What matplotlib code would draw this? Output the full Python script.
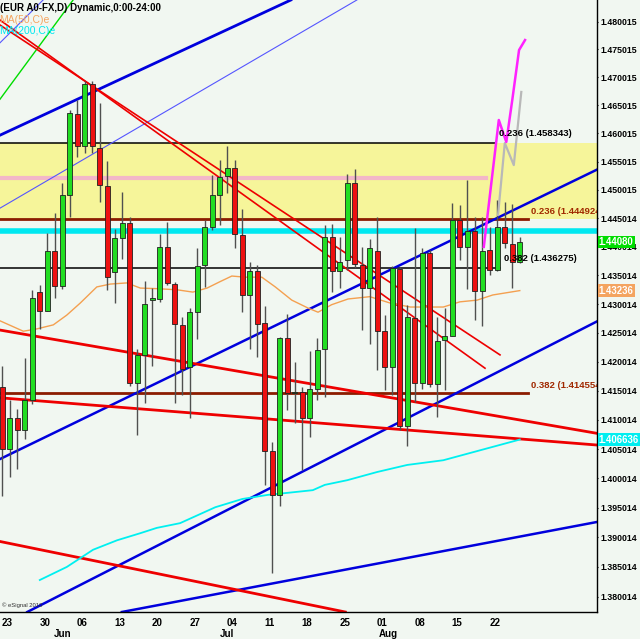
import numpy as np
import matplotlib
matplotlib.use("Agg")
import matplotlib.pyplot as plt
from matplotlib.ticker import NullLocator, FixedLocator, NullFormatter
from matplotlib.transforms import blended_transform_factory

# EUR A0-FX daily bars, bar 0 = 20 May 2011 ... bar 69 = 25 Aug 2011
opens = [1.4156, 1.4050, 1.4103, 1.4083, 1.4134, 1.4321, 1.4288, 1.4393, 1.4332, 1.4492,
         1.4634, 1.4578, 1.4688, 1.4575, 1.4507, 1.4356, 1.4416, 1.4442, 1.4163, 1.4212,
         1.4308, 1.4309, 1.4399, 1.4335, 1.4264, 1.4191, 1.4287, 1.4368, 1.4435, 1.4492,
         1.4525, 1.4538, 1.4421, 1.4316, 1.4358, 1.4267, 1.4046, 1.3972, 1.4241, 1.4146,
         1.4148, 1.4103, 1.4154, 1.4222, 1.4417, 1.4358, 1.4377, 1.4513, 1.4368, 1.4329,
         1.4393, 1.4253, 1.4191, 1.4361, 1.4090, 1.4276, 1.4164, 1.4390, 1.4161, 1.4238,
         1.4245, 1.4447, 1.4399, 1.4427, 1.4323, 1.4395, 1.4360, 1.4434, 1.4405, 1.4374]
highs = [1.4193, 1.4134, 1.4118, 1.4206, 1.4325, 1.4333, 1.4424, 1.4459, 1.4513, 1.4642,
         1.4660, 1.4694, 1.4694, 1.4654, 1.4552, 1.4431, 1.4497, 1.4453, 1.4222, 1.4341,
         1.4328, 1.4423, 1.4443, 1.4338, 1.4278, 1.4293, 1.4398, 1.4447, 1.4527, 1.4553,
         1.4578, 1.4553, 1.4467, 1.4374, 1.4368, 1.4296, 1.4062, 1.4243, 1.4283, 1.4199,
         1.4157, 1.4218, 1.4241, 1.4438, 1.4440, 1.4418, 1.4528, 1.4537, 1.4400, 1.4413,
         1.4453, 1.4281, 1.4367, 1.4364, 1.4299, 1.4433, 1.4398, 1.4395, 1.4278, 1.4293,
         1.4477, 1.4474, 1.4518, 1.4452, 1.4453, 1.4434, 1.4482, 1.4479, 1.4475, 1.4417]
lows = [1.3970, 1.4003, 1.4016, 1.4068, 1.4127, 1.4256, 1.4288, 1.4310, 1.4326, 1.4453,
        1.4559, 1.4566, 1.4565, 1.4479, 1.4324, 1.4302, 1.4378, 1.4158, 1.4075, 1.4129,
        1.4193, 1.4304, 1.4333, 1.4129, 1.4143, 1.4104, 1.4239, 1.4330, 1.4430, 1.4438,
        1.4495, 1.4398, 1.4287, 1.4222, 1.4208, 1.3989, 1.3839, 1.3953, 1.4117, 1.4094,
        1.4014, 1.4071, 1.4134, 1.4140, 1.4322, 1.4328, 1.4360, 1.4363, 1.4255, 1.4231,
        1.4186, 1.4151, 1.4143, 1.4083, 1.4055, 1.4131, 1.4153, 1.4157, 1.4105, 1.4151,
        1.4244, 1.4377, 1.4326, 1.4273, 1.4262, 1.4351, 1.4357, 1.4398, 1.4329, 1.4372]
closes = [1.4050, 1.4103, 1.4083, 1.4134, 1.4310, 1.4288, 1.4393, 1.4332, 1.4491, 1.4636,
          1.4578, 1.4688, 1.4577, 1.4508, 1.4348, 1.4415, 1.4442, 1.4163, 1.4212, 1.4300,
          1.4310, 1.4399, 1.4336, 1.4265, 1.4187, 1.4286, 1.4367, 1.4434, 1.4491, 1.4523,
          1.4539, 1.4423, 1.4316, 1.4358, 1.4266, 1.4047, 1.3972, 1.4241, 1.4147, 1.4148,
          1.4103, 1.4153, 1.4220, 1.4417, 1.4357, 1.4374, 1.4513, 1.4370, 1.4329, 1.4398,
          1.4254, 1.4191, 1.4363, 1.4090, 1.4278, 1.4164, 1.4390, 1.4161, 1.4236, 1.4245,
          1.4447, 1.4399, 1.4427, 1.4323, 1.4393, 1.4360, 1.4434, 1.4407, 1.4374, 1.4408]

# moving averages (bar, value)
ma50_bars = [-0.3, 2.8, 4.6, 6.8, 8.6, 10.4, 12.6, 14.4, 16.6, 18.4, 20.6, 23.3, 25.4, 27.3,
             29.0, 30.6, 32.4, 34.6, 36.4, 38.6, 40.8, 42.1, 43.9, 46.1, 49.0, 51.7, 54.4,
             58.8, 61.0, 63.3, 65.4, 69.0]
ma50_vals = [1.4271, 1.4253, 1.4257, 1.4264, 1.4281, 1.4302, 1.4330, 1.4335, 1.4337, 1.4328,
             1.4327, 1.4325, 1.4321, 1.4328, 1.4339, 1.4349, 1.4347, 1.4347, 1.4330, 1.4307,
             1.4293, 1.4286, 1.4299, 1.4309, 1.4313, 1.4302, 1.4295, 1.4295, 1.4304, 1.4307,
             1.4316, 1.43236]
ma200_bars = [5.0, 8.6, 12.1, 15.3, 18.4, 20.6, 23.7, 28.4, 32.0, 35.4, 37.7, 41.4, 43.0,
              46.0, 50.0, 54.0, 58.8, 69.0]
ma200_vals = [1.3828, 1.3850, 1.3879, 1.3895, 1.3907, 1.3916, 1.3924, 1.3951, 1.3965, 1.3972,
              1.3975, 1.3980, 1.3989, 1.3997, 1.4011, 1.4023, 1.4031, 1.406636]

# projection paths
proj_pink_bars = [64.2, 65.3, 66.2, 67.2, 68.0, 68.9, 69.7]
proj_pink_vals = [1.4400, 1.4523, 1.4624, 1.4585, 1.4660, 1.4749, 1.4767]
proj_gray_bars = [66.1, 67.0, 68.2, 69.2]
proj_gray_vals = [1.4456, 1.4583, 1.4544, 1.4674]

# trend lines: (bar, price) pairs
rays = [  # (p1, p2, colour, width) extended both ways
    ((-0.31, 1.4597), (37.03, 1.4830), "#0000dd", 2.0),
    ((-0.31, 1.4033), (79.29, 1.4536), "#0000dd", 1.8),
    ((11.69, 1.3828), (79.29, 1.4270), "#0000dd", 1.8),
    ((39.70, 1.3831), (79.29, 1.3926), "#0000dd", 1.8),
    ((-0.31, 1.4468), (23.69, 1.4654), "#5555ff", 0.8),
    ((-0.31, 1.4762), (5.43, 1.4839), "#5555ff", 0.8),
    ((-0.31, 1.4661), (9.43, 1.4839), "#00dd00", 1.0),
    ((-0.31, 1.4255), (79.29, 1.4077), "#ee0000", 2.0),
    ((-0.31, 1.4138), (79.29, 1.4057), "#ee0000", 2.0),
    ((-0.31, 1.3893), (23.69, 1.3831), "#ee0000", 2.0),
]
segments = [
    ((-0.31, 1.4794), (66.36, 1.4212), "#ee0000", 1.2),
    ((-0.31, 1.4803), (64.36, 1.4189), "#ee0000", 1.2),
]

fib_black = [(1.458343, "0.236 (1.458343)", 65.7), (1.436275, "0.382 (1.436275)", 66.4)]
fib_brown = [(1.444924, "0.236 (1.444924)", 70.1), (1.414554, "0.382 (1.414554)", 70.1)]
pink_level, pink_end = 1.4522, 64.5
cyan_level = 1.4428

ytick_vals = [1.480015, 1.475015, 1.470015, 1.465015, 1.460015, 1.455015, 1.450015,
              1.445014, 1.440014, 1.435014, 1.430014, 1.425014, 1.420014, 1.415014,
              1.410014, 1.405014, 1.400014, 1.395014, 1.390014, 1.385014, 1.380014]
xtick_bars = [1, 6, 11, 16, 21, 26, 31, 36, 41, 46, 51, 56, 61, 66]
xtick_text = ["23", "30", "06", "13", "20", "27", "04", "11", "18", "25", "01", "08", "15", "22"]
months = [(8, "Jun"), (30, "Jul"), (51.5, "Aug")]

FONT = "Liberation Sans"
BG = "#f1f7f1"

fig = plt.figure(figsize=(6.4, 6.39), dpi=100, facecolor=BG)
ax = fig.add_axes([0, 1 - 612 / 639, 597 / 640, 612 / 639], facecolor=BG)
ax.set_yscale("log")
x0, x1 = -2.3 / 7.5, (597 - 2.3) / 7.5
y0, y1 = 1.37743, 1.48391
ax.set_xlim(x0, x1)
ax.set_ylim(y0, y1)

# fib zone + horizontal levels
ax.axhspan(fib_brown[0][0], fib_black[0][0], color="#f6f59a", zorder=0.5, lw=0)
for lvl, txt, end in fib_black:
    ax.plot([x0, end], [lvl, lvl], color="black", lw=1.1, zorder=1)
    ax.text(end + 0.5, lvl * 1.0006, txt, fontsize=6.8, fontweight="bold", family=FONT,
            color="black", va="bottom", ha="left", zorder=6, clip_on=True)
for lvl, txt, end in fib_brown:
    ax.plot([x0, end], [lvl, lvl], color="#8b1c00", lw=2.0, zorder=1)
    ax.text(end + 0.4, lvl * 1.0004, txt, fontsize=6.8, fontweight="bold", family=FONT,
            color="#a02800", va="bottom", ha="left", zorder=6, clip_on=True)
ax.plot([x0, pink_end], [pink_level, pink_level], color="#f3b7c8", lw=3.0, zorder=1)
ax.axhline(cyan_level, color="#00e8f0", lw=4.0, zorder=1)

# trend lines
for p1, p2, col, w in rays:
    ax.axline(p1, p2, color=col, lw=w, zorder=2)
for p1, p2, col, w in segments:
    ax.plot([p1[0], p2[0]], [p1[1], p2[1]], color=col, lw=w, zorder=2)

# moving averages
ax.plot(ma50_bars, ma50_vals, color="#f4a050", lw=1.0, zorder=2)
ax.plot(ma200_bars, ma200_vals, color="#00f0f0", lw=1.3, zorder=2)

# candles
o = np.array(opens); h = np.array(highs); l = np.array(lows); c = np.array(closes)
bars = np.arange(len(o))
up = c >= o
ax.vlines(bars, l, h, color="#505050", lw=1.0, zorder=3)
body_lo = np.minimum(o, c)
body_h = np.maximum(np.abs(c - o), 0.00015)
ax.bar(bars, body_h, bottom=body_lo, width=0.62,
       color=np.where(up, "#22dd22", "#ee1111"), edgecolor="#202020", lw=0.6, zorder=4)

# projections
ax.plot(proj_gray_bars, proj_gray_vals, color="#b8b8b8", lw=1.6, zorder=5)
ax.plot(proj_pink_bars, proj_pink_vals, color="#ff22ff", lw=1.8, zorder=5)

# axes styling
for s in ["top", "left"]:
    ax.spines[s].set_visible(False)
ax.spines["right"].set_linewidth(1.0)
ax.spines["bottom"].set_linewidth(1.0)
ax.yaxis.tick_right()
ax.yaxis.set_minor_locator(NullLocator())
ax.yaxis.set_minor_formatter(NullFormatter())
ax.yaxis.set_major_locator(FixedLocator(ytick_vals))
ax.set_yticklabels([f"{v:.6f}" for v in ytick_vals], fontsize=6.3, fontweight="bold",
                   family=FONT)
ax.tick_params(axis="y", length=1, pad=1.5)
ax.set_xticks([b - 0.35 for b in xtick_bars])
ax.set_xticklabels(xtick_text, fontsize=7, fontweight="bold", family=FONT)
ax.tick_params(axis="x", length=0, pad=4)

tr = blended_transform_factory(ax.transData, ax.transAxes)
for b, name in months:
    ax.text(b, -0.036, name, transform=tr, ha="center", va="center", fontsize=7,
            fontweight="bold", family=FONT, clip_on=False)

# price boxes on the axis
ytr = ax.get_yaxis_transform()
for val, txt, col in [(1.44080, "1.44080", "#00dd00"), (1.43236, "1.43236", "#f4a460"),
                      (1.406636, "1.406636", "#00eef0")]:
    ax.text(1.003, val, txt, transform=ytr, ha="left", va="center", fontsize=6.9,
            color="white", fontweight="bold", family=FONT, zorder=10, clip_on=False,
            bbox=dict(boxstyle="square,pad=0.12", fc=col, ec="none"))

# header
fig.text(0.0, 1 - 8 / 639, "(EUR A0-FX,D) Dynamic,0:00-24:00", fontsize=7, fontweight="bold",
         family=FONT, va="center", ha="left")
fig.text(-0.002, 1 - 20 / 639, "MA(50,C)e", fontsize=7.5, color="#f4a460", family=FONT,
         va="center", ha="left")
fig.text(-0.002, 1 - 31 / 639, "MA(200,C)e", fontsize=7.5, color="#00e8f0", family=FONT,
         va="center", ha="left")
ax.text(0.004, 0.006, "\u00a9 eSignal 2010", transform=ax.transAxes, fontsize=4.2,
        family=FONT, color="#303030", va="bottom", ha="left")

fig.savefig("out.png", dpi=100, facecolor=BG)
